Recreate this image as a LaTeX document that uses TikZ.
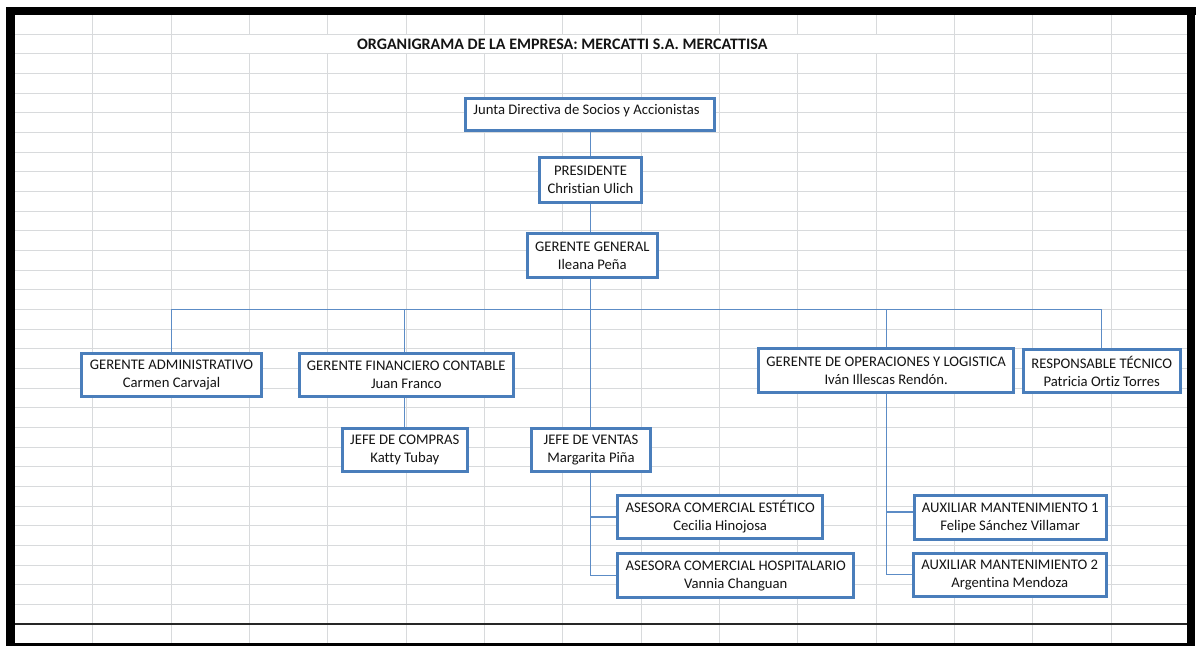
\documentclass[tikz,border=0pt]{standalone}
\usepackage{fontspec}
\setmainfont[Ligatures=NoCommon]{Carlito}
\definecolor{boxblue}{RGB}{74,126,187}
\definecolor{linkblue}{RGB}{92,140,198}
\definecolor{gridgray}{RGB}{216,218,220}
\definecolor{txt}{RGB}{20,20,20}
\begin{document}
\begin{tikzpicture}[x=0.75pt,y=-0.75pt,
  box/.style={draw=boxblue,line width=2.1pt,fill=white,align=center,inner sep=0pt,
    font=\fontsize{11}{13.5}\selectfont,text=txt},
  wh/.style 2 args={minimum width=#1,minimum height=#2},
  link/.style={draw=linkblue,line width=0.8pt},
  gridline/.style={draw=gridgray,line width=0.75pt}]
\useasboundingbox (0,0) rectangle (1198,646);
\fill[white] (0,0) rectangle (1198,646);
% spreadsheet grid
\foreach \k in {0,...,29}
  \draw[gridline] (14.5,{34+19.667*\k}) -- (1186.7,{34+19.667*\k});
\foreach \k in {0,1,11,12,13}
  \draw[gridline] ({92.7+78.33*\k},14.5) -- ({92.7+78.33*\k},643.3);
\foreach \k in {2,...,10}{
  \draw[gridline] ({92.7+78.33*\k},14.5) -- ({92.7+78.33*\k},34);
  \draw[gridline] ({92.7+78.33*\k},54) -- ({92.7+78.33*\k},643.3);
}
% frame
\fill[black] (6,7) rectangle (1196,14.5);
\fill[black] (6,7) rectangle (14.5,646);
\fill[black] (1186.7,7) rectangle (1195,646);
\fill[black] (6,643.3) rectangle (1195,646);
\draw[black!85,line width=1.6pt] (14.5,624) -- (1186.7,624);
% title
\node[font=\bfseries\fontsize{12}{14}\selectfont,text=txt] (title) at (562.3,44)
  {ORGANIGRAMA DE LA EMPRESA: MERCATTI S.A. MERCATTISA};
% boxes
\node[box,wh={186.5pt}{24.5pt}] (jd) at (590.2,114.5) {};
\node[font=\fontsize{11}{13.5}\selectfont,text=txt,inner sep=0pt] (jdt) at (586.5,111)
  {Junta Directiva de Socios y Accionistas};
\node[box,wh={77pt}{33.5pt}] (pres) at (590.5,180.2) {PRESIDENTE\\Christian Ulich};
\node[box,wh={97.7pt}{32.8pt}] (gg) at (592.3,255.7) {GERENTE GENERAL\\Ileana Peña};
\node[box,wh={134.5pt}{32.3pt}] (ga) at (171.5,374.7) {GERENTE ADMINISTRATIVO\\Carmen Carvajal};
\node[box,wh={160.7pt}{32.5pt}] (gf) at (406.3,375.2) {GERENTE FINANCIERO CONTABLE\\Juan Franco};
\node[box,wh={94pt}{32.5pt}] (jc) at (404.8,449.8) {JEFE DE COMPRAS\\Katty Tubay};
\node[box,wh={89.3pt}{32.5pt}] (jv) at (591,449.8) {JEFE DE VENTAS\\Margarita Piña};
\node[box,wh={191pt}{32.8pt}] (op) at (886.2,370.7) {GERENTE DE OPERACIONES Y LOGISTICA\\Iván Illescas Rendón.};
\node[box,wh={117.8pt}{32.3pt}] (rt) at (1101.7,371.3) {RESPONSABLE TÉCNICO\\Patricia Ortiz Torres};
\node[box,wh={153.5pt}{32.7pt}] (ae) at (720.2,517) {ASESORA COMERCIAL ESTÉTICO\\Cecilia Hinojosa};
\node[box,wh={177pt}{32.6pt}] (ah) at (735.8,575.5) {ASESORA COMERCIAL HOSPITALARIO\\Vannia Changuan};
\node[box,wh={144pt}{32.8pt}] (a1) at (1010.2,517.7) {AUXILIAR MANTENIMIENTO 1\\Felipe Sánchez Villamar};
\node[box,wh={144.8pt}{32pt}] (a2) at (1009.7,574.9) {AUXILIAR MANTENIMIENTO 2\\Argentina Mendoza};
% connectors
\coordinate (bus) at (590.5,309.3);
\draw[link] (jd.south) -- (jd.south |- pres.north);
\draw[link] (pres.south) -- (pres.south |- gg.north);
\draw[link] (pres.south |- gg.south) -- (pres.south |- jv.north);
\draw[link] (ga.north |- bus) -- (rt.north |- bus);
\draw[link] (ga.north |- bus) -- (ga.north);
\draw[link] (jc.north |- bus) -- (jc.north |- gf.north);
\draw[link] (op.north |- bus) -- (op.north);
\draw[link] (rt.north |- bus) -- (rt.north);
\draw[link] (jc.north |- gf.south) -- (jc.north);
\draw[link] (pres.south |- jv.south) -- (pres.south |- ah.west) -- (ah.west);
\draw[link] (pres.south |- ae.west) -- (ae.west);
\draw[link] (op.south) -- (op.south |- a2.west) -- (a2.west);
\draw[link] ([yshift=4.3pt]a1.west -| op.south) -- ([yshift=4.3pt]a1.west);
\end{tikzpicture}
\end{document}
